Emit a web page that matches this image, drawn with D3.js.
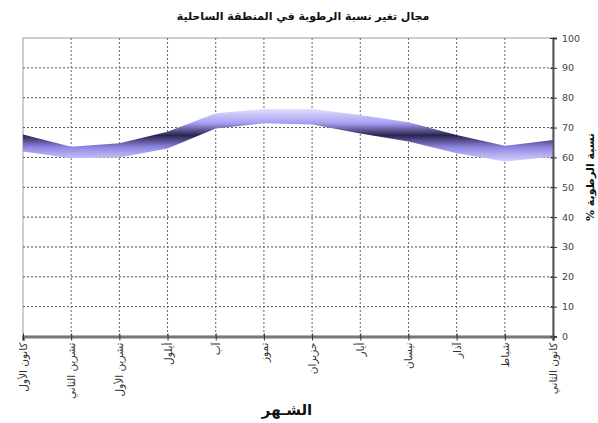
<!DOCTYPE html>
<html>
<head>
<meta charset="utf-8">
<script src="https://cdn.jsdelivr.net/npm/d3@7"></script>
<style>
  html, body { margin: 0; padding: 0; background: #fff; }
  svg { display: block; font-family: "DejaVu Sans", sans-serif; }
</style>
</head>
<body>
<svg id="chart" width="598" height="423"></svg>
<script>
// Months, January to December (drawn right-to-left)
const months = ["كانون الثاني", "شباط", "آذار", "نيسان", "أيار", "حزيران",
                "تموز", "آب", "أيلول", "تشرين الأول", "تشرين الثاني", "كانون الأول"];
// Lower and upper bounds of relative humidity (%)
const humidityLow  = [60.2, 58.6, 61.4, 65.3, 68.0, 71.0, 71.4, 69.7, 63.0, 60.0, 59.7, 62.0];
const humidityHigh = [65.8, 63.9, 67.5, 71.8, 74.2, 76.2, 76.2, 74.8, 68.6, 64.7, 63.6, 67.7];
const yTicks = [0, 10, 20, 30, 40, 50, 60, 70, 80, 90, 100];

const chartTitle = "مجال تغير نسبة الرطوبة في المنطقة الساحلية";
const xTitle = "الشـهر";
const yTitle = "نسبة الرطوبة %";

const svg = d3.select("#chart");
const plotLeft = 23, plotRight = 553, plotTop = 38, plotBottom = 336.5;

const x = d3.scalePoint().domain(months).range([plotRight, plotLeft]).padding(0);
const y = d3.scaleLinear().domain([0, 100]).range([plotBottom, plotTop]);

const rows = months.map((m, i) => ({ m, lo: humidityLow[i], hi: humidityHigh[i] }));

// gradient: light edges, dark centre
const defs = svg.append("defs");
const grad = defs.append("linearGradient")
  .attr("id", "bandFill").attr("x1", 0).attr("y1", 0).attr("x2", 0).attr("y2", 1);
[["0%", "#e2deff"], ["27%", "#a69ef2"], ["50%", "#29234f"], ["73%", "#8f87e2"], ["100%", "#d6d0ff"]]
  .forEach(([o, c]) => grad.append("stop").attr("offset", o).attr("stop-color", c));

// plot frame
svg.append("rect")
  .attr("x", plotLeft).attr("y", plotTop)
  .attr("width", plotRight - plotLeft).attr("height", plotBottom - plotTop)
  .attr("fill", "#fff").attr("stroke", "#bdbdbd").attr("stroke-width", 1.5);

// gridlines
svg.append("g").selectAll("line").data(yTicks.filter(d => d > 0 && d < 100)).join("line")
  .attr("x1", plotLeft).attr("x2", plotRight)
  .attr("y1", d => y(d)).attr("y2", d => y(d))
  .attr("stroke", "#555").attr("stroke-width", 1).attr("stroke-dasharray", "2,2");
svg.append("g").selectAll("line").data(months.slice(1, -1)).join("line")
  .attr("x1", d => x(d)).attr("x2", d => x(d))
  .attr("y1", plotTop).attr("y2", plotBottom)
  .attr("stroke", "#666").attr("stroke-width", 1).attr("stroke-dasharray", "2,2");

// humidity band
const area = d3.area()
  .x(d => x(d.m))
  .y0(d => y(d.lo))
  .y1(d => y(d.hi));
svg.append("path").datum(rows)
  .attr("d", area)
  .attr("fill", "url(#bandFill)");

// bottom axis
const xAxis = d3.axisBottom(x).tickSize(4).tickFormat("");
const gx = svg.append("g").attr("transform", `translate(0,${plotBottom})`).call(xAxis);
gx.select(".domain").attr("stroke", "#777").attr("stroke-width", 3);
gx.selectAll(".tick line").attr("stroke", "#333").attr("y1", -3);
svg.append("g").selectAll("text").data(months).join("text")
  .attr("transform", d => `translate(${x(d) + 4},${plotBottom + 6}) rotate(-90)`)
  .attr("text-anchor", "end")
  .attr("font-size", 10.5)
  .attr("fill", "#333")
  .text(d => d);

// right axis
const yAxis = d3.axisRight(y).tickValues(yTicks).tickSize(4).tickPadding(5);
const gy = svg.append("g").attr("transform", `translate(${plotRight},0)`).call(yAxis);
gy.select(".domain").attr("stroke", "#555").attr("stroke-width", 2);
gy.selectAll(".tick line").attr("stroke", "#333").attr("x1", -3);
gy.selectAll(".tick text")
  .attr("font-family", "DejaVu Sans, sans-serif")
  .attr("font-size", 9.5).attr("fill", "#444");

// titles
svg.append("text")
  .attr("x", 303).attr("y", 20)
  .attr("text-anchor", "middle").attr("font-size", 11).attr("font-weight", "bold")
  .attr("fill", "#111")
  .text(chartTitle);
svg.append("text")
  .attr("x", 287).attr("y", 415)
  .attr("text-anchor", "middle").attr("font-size", 15).attr("font-weight", "bold")
  .attr("fill", "#111")
  .text(xTitle);
svg.append("text")
  .attr("transform", "translate(594,177) rotate(-90)")
  .attr("direction", "rtl")
  .attr("text-anchor", "middle").attr("font-size", 11).attr("font-weight", "bold")
  .attr("fill", "#111")
  .text(yTitle);
</script>
</body>
</html>
